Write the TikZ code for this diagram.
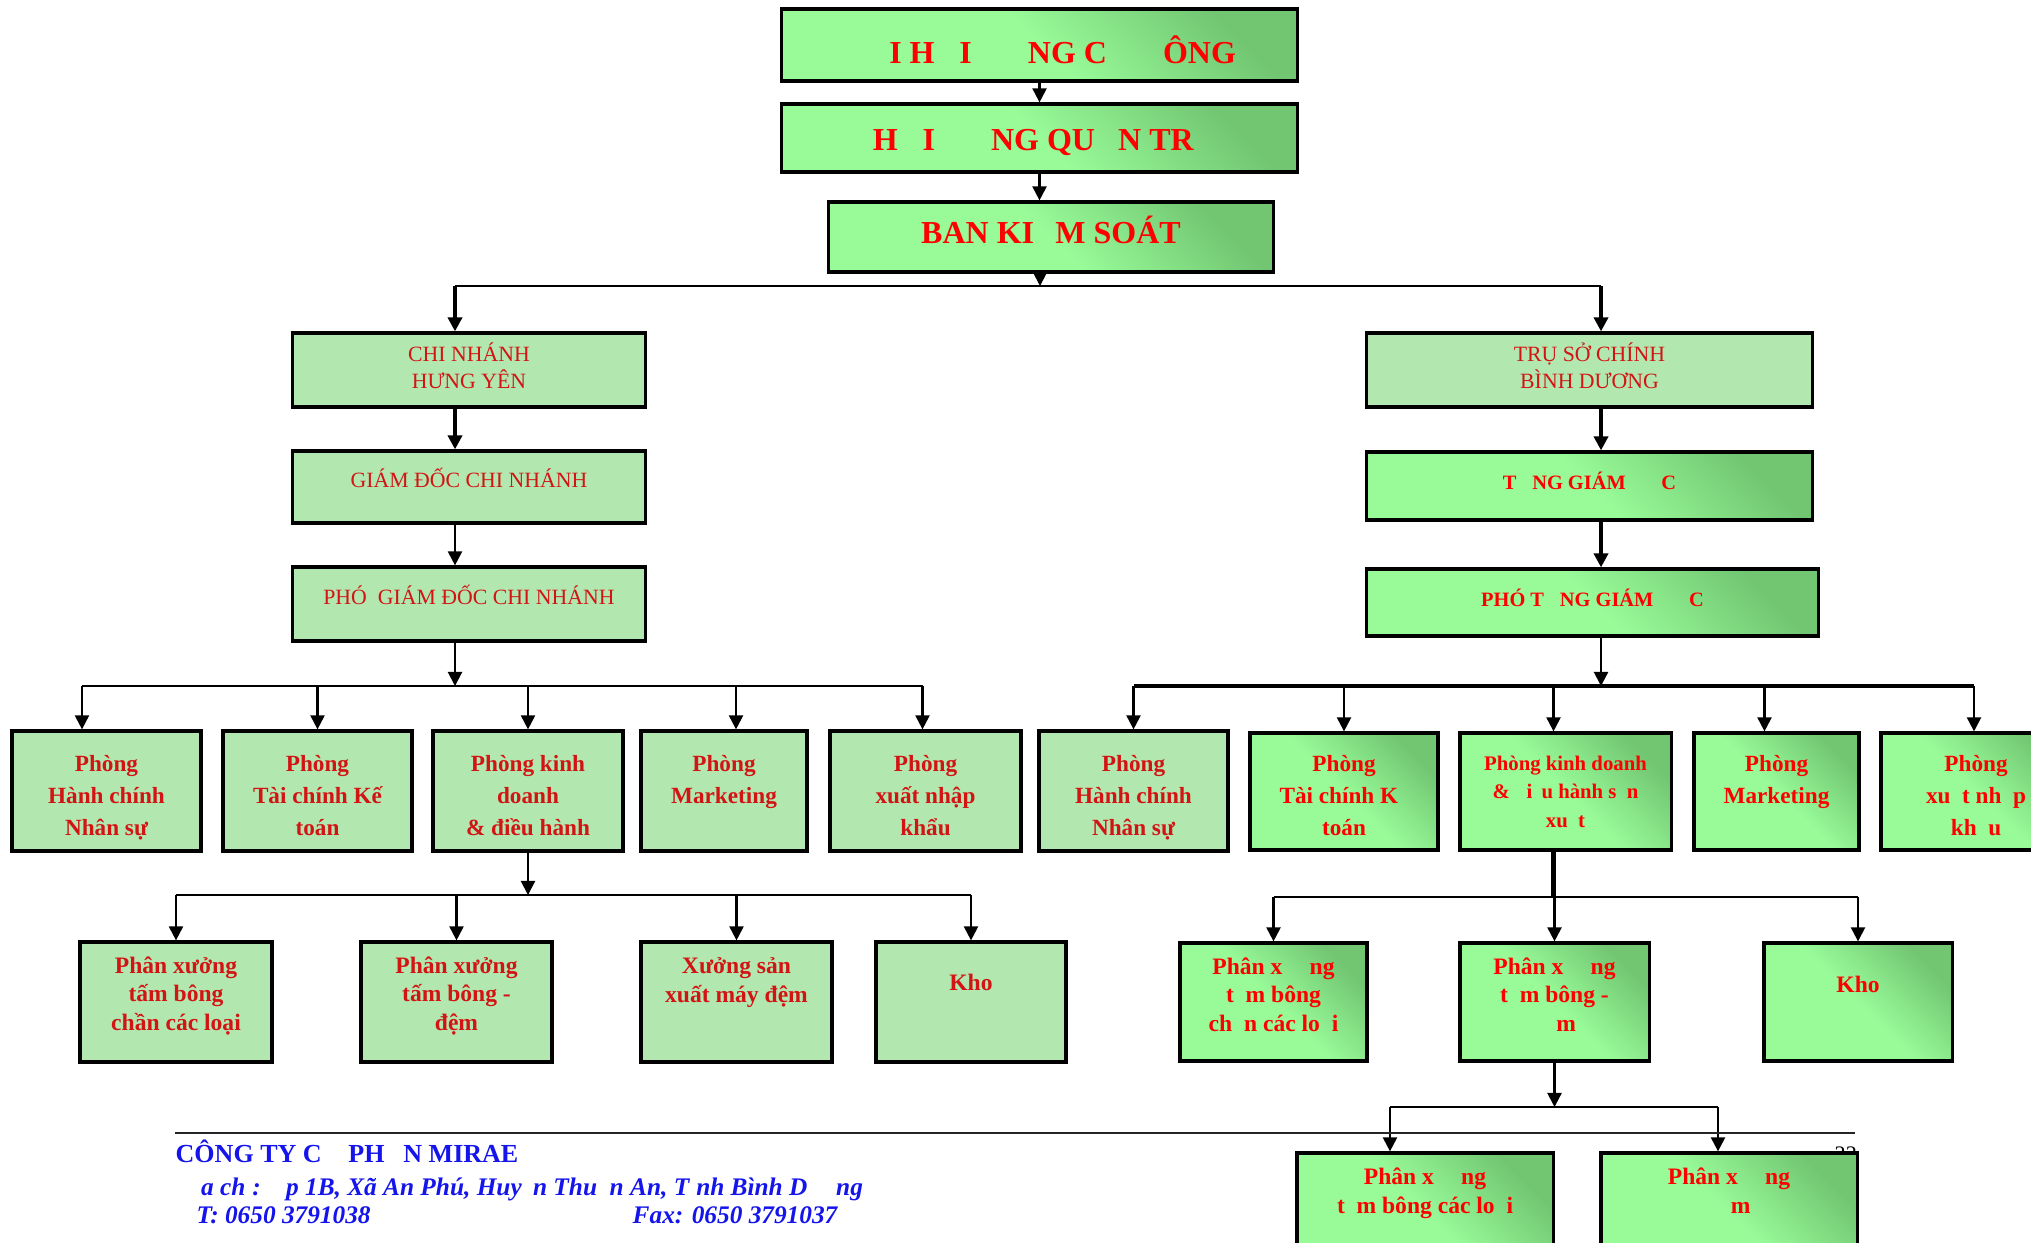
\documentclass[tikz,border=0pt]{standalone}
\usepackage{fontspec}
\setmainfont{Liberation Serif}
\usetikzlibrary{arrows.meta}

\definecolor{lgreen}{RGB}{152,251,152}
\definecolor{dgreen}{RGB}{114,198,114}
\definecolor{tgreen}{RGB}{178,232,176}
\definecolor{tred}{RGB}{255,0,0}
\definecolor{dred}{RGB}{210,20,20}
\definecolor{fblue}{RGB}{20,20,235}

% glyphs the original font did not print: keep their width only
\newcommand{\miss}[1]{\phantom{#1}}

\tikzset{
  box/.style={draw, line width=0.9pt, align=center},
  gbox/.style={box, left color=lgreen, right color=dgreen, middle color=lgreen, shading angle=135, text=tred},
  tbox/.style={box, fill=tgreen, text=dred},
  tb/.style 2 args={inner ysep=0pt, text height=#1, text depth=#2},
  topf/.style={font=\fontsize{9.1}{11}\selectfont\bfseries},
  colf/.style={font=\fontsize{6.2}{7.4}\selectfont},
  hdf/.style={font=\fontsize{5.8}{7}\selectfont\bfseries},
  deptf/.style={font=\fontsize{6.6}{9.1}\selectfont\bfseries},
  smallf/.style={font=\fontsize{5.9}{8}\selectfont\bfseries},
  subf/.style={font=\fontsize{6.7}{8}\selectfont\bfseries},
  footf/.style={text=fblue, inner sep=0pt, anchor=base west, font=\fontsize{7.2}{9}\selectfont\bfseries\itshape},
  conn/.style={-{Triangle[length=4pt,width=4pt]}, line width=0.6pt},
  thickconn/.style={conn, line width=1.4pt},
  busline/.style={line width=0.6pt},
  thickbus/.style={line width=1.3pt},
}

\begin{document}
\begin{tikzpicture}[x=0.01cm, y=-0.01cm]
\useasboundingbox (0,0) rectangle (2031,1243);

% Top level
\node[gbox, topf, minimum width=5.15cm, tb={0.54cm}{0.18cm}] (dhcd) at (1039.5,45) {\miss{ĐẠ}I H\miss{Ộ}I \miss{ĐỒ}NG C\miss{Ổ} \miss{Đ}ÔNG};
\node[gbox, topf, minimum width=5.15cm, tb={0.46cm}{0.22cm}] (hdqt) at (1039.5,138) {H\miss{Ộ}I \miss{ĐỒ}NG QU\miss{Ả}N TR\miss{Ị}};
\node[gbox, topf, minimum width=4.44cm, tb={0.41cm}{0.29cm}] (bks) at (1051,237) {BAN KI\miss{Ể}M SOÁT};

% Branch columns
\node[tbox, colf, minimum width=3.52cm, tb={0.55cm}{0.19cm}] (cn) at (469,370) {CHI NHÁNH\\HƯNG YÊN};
\node[tbox, colf, minimum width=3.52cm, tb={0.36cm}{0.36cm}] (gd) at (469,487) {GIÁM ĐỐC CHI NHÁNH};
\node[tbox, colf, minimum width=3.52cm, tb={0.37cm}{0.37cm}] (pgd) at (469,604) {PHÓ\ \ GIÁM ĐỐC CHI NHÁNH};

\node[tbox, colf, minimum width=4.45cm, tb={0.55cm}{0.19cm}] (ts) at (1589.5,370) {TRỤ SỞ CHÍNH\\BÌNH DƯƠNG};
\node[gbox, hdf, minimum width=4.45cm, tb={0.37cm}{0.31cm}] (tgd) at (1589.5,486) {T\miss{Ổ}NG GIÁM \miss{ĐỐ}C};
\node[gbox, hdf, minimum width=4.51cm, tb={0.37cm}{0.30cm}] (ptgd) at (1592.5,602.5) {PHÓ T\miss{Ổ}NG GIÁM \miss{ĐỐ}C};

% Departments, left
\node[tbox, deptf, minimum width=1.89cm, tb={1.04cm}{0.16cm}] (l1) at (106.5,791) {Phòng\\Hành chính\\Nhân sự};
\node[tbox, deptf, minimum width=1.89cm, tb={1.04cm}{0.16cm}] (l2) at (317.5,791) {Phòng\\Tài chính Kế\\toán};
\node[tbox, deptf, minimum width=1.90cm, tb={1.04cm}{0.16cm}] (l3) at (528,791) {Phòng kinh\\doanh\\\& điều hành};
\node[tbox, deptf, minimum width=1.66cm, tb={0.72cm}{0.48cm}] (l4) at (724,791) {Phòng\\Marketing};
\node[tbox, deptf, minimum width=1.91cm, tb={1.04cm}{0.16cm}] (l5) at (925.5,791) {Phòng\\xuất nhập\\khẩu};

% Departments, right
\node[tbox, deptf, minimum width=1.89cm, tb={1.04cm}{0.16cm}] (r1) at (1133.5,791) {Phòng\\Hành chính\\Nhân sự};
\node[gbox, deptf, minimum width=1.88cm, tb={1.02cm}{0.15cm}] (r2) at (1344,791.5) {Phòng\\Tài chính K\miss{ế}\\toán};
\node[gbox, smallf, minimum width=2.11cm, tb={0.94cm}{0.23cm}] (r3) at (1565.5,791.5) {Phòng kinh doanh\\\& \miss{đ}i\miss{ề}u hành s\miss{ả}n\\xu\miss{ấ}t};
\node[gbox, deptf, minimum width=1.65cm, tb={0.70cm}{0.47cm}] (r4) at (1776.5,791.5) {Phòng\\Marketing};
\node[gbox, deptf, minimum width=1.90cm, tb={1.02cm}{0.15cm}] (r5) at (1976,791.5) {Phòng\\xu\miss{ấ}t nh\miss{ậ}p\\kh\miss{ẩ}u};

% Workshops, left
\node[tbox, subf, minimum width=1.92cm, tb={0.88cm}{0.32cm}] (s1) at (176,1002) {Phân xưởng\\tấm bông\\chần các loại};
\node[tbox, subf, minimum width=1.91cm, tb={0.88cm}{0.32cm}] (s2) at (456.5,1002) {Phân xưởng\\tấm bông -\\đệm};
\node[tbox, subf, minimum width=1.91cm, tb={0.60cm}{0.60cm}] (s3) at (736.5,1002) {Xưởng sản\\xuất máy đệm};
\node[tbox, subf, minimum width=1.90cm, tb={0.48cm}{0.72cm}] (s4) at (971,1002) {Kho};

% Workshops, right
\node[gbox, subf, minimum width=1.87cm, tb={0.88cm}{0.30cm}] (t1) at (1273.5,1002) {Phân x\miss{ưở}ng\\t\miss{ấ}m bông\\ch\miss{ầ}n các lo\miss{ạ}i};
\node[gbox, subf, minimum width=1.89cm, tb={0.88cm}{0.30cm}] (t2) at (1554.5,1002) {Phân x\miss{ưở}ng\\t\miss{ấ}m bông -\\\miss{đệ}m};
\node[gbox, subf, minimum width=1.88cm, tb={0.49cm}{0.69cm}] (t3) at (1858,1002) {Kho};

% page number, mostly hidden
\node[inner sep=0pt, anchor=north west, font=\fontsize{6.3}{7}\selectfont] (pgno) at (1834,1146) {22};

\node[gbox, subf, minimum width=2.56cm, tb={0.60cm}{0.60cm}] (u1) at (1425,1213) {Phân x\miss{ưở}ng\\t\miss{ấ}m bông các lo\miss{ạ}i};
\node[gbox, subf, minimum width=2.56cm, tb={0.60cm}{0.60cm}] (u2) at (1729,1213) {Phân x\miss{ưở}ng\\\miss{đệ}m};

% Top chain
\draw[conn] (dhcd.south) -- (hdqt.north);
\draw[conn] (hdqt.south) -- (hdqt.south |- bks.north);
\coordinate (bus0) at (1040,286);
\coordinate (lcol) at (455,286);
\coordinate (rcol) at (1601,286);
\draw[conn] (bus0 |- bks.south) -- (bus0);
\draw[busline] (lcol) -- (rcol);

% Left column
\draw[thickconn] (lcol) -- (lcol |- cn.north);
\draw[thickconn] (lcol |- cn.south) -- (lcol |- gd.north);
\draw[conn] (lcol |- gd.south) -- (lcol |- pgd.north);
\coordinate (lbus) at (455,686);
\draw[conn] (lcol |- pgd.south) -- (lbus);
\foreach \n/\dx in {l1/-0.245, l2/0, l3/0, l4/0.12, l5/-0.03}{
  \coordinate (\n top) at ([xshift=\dx cm]\n.north);
  \draw[conn] (\n top |- lbus) -- (\n top);
}
\draw[busline] (l1top |- lbus) -- (l5top |- lbus);

% Right column
\draw[thickconn] (rcol) -- (rcol |- ts.north);
\draw[thickconn] (rcol |- ts.south) -- (rcol |- tgd.north);
\draw[thickconn] (rcol |- tgd.south) -- (rcol |- ptgd.north);
\coordinate (rbus) at (1601,686);
\draw[conn] (rcol |- ptgd.south) -- (rbus);
\foreach \n/\dx in {r1/0, r2/0, r3/-0.12, r4/-0.12, r5/-0.02}{
  \coordinate (\n top) at ([xshift=\dx cm]\n.north);
  \draw[conn] (\n top |- rbus) -- (\n top);
}
\draw[thickbus] (r1top |- rbus) -- (r5top |- rbus);

% Workshops, left
\coordinate (lsbus) at (528,895);
\draw[conn] (l3.south) -- (lsbus);
\foreach \n in {s1,s2,s3,s4}
  \draw[conn] (\n.north |- lsbus) -- (\n.north);
\draw[busline] (s1.north |- lsbus) -- (s4.north |- lsbus);

% Workshops, right
\coordinate (tsbus) at (1553.5,897);
\draw[thickbus] (r3top |- r3.south) -- (tsbus);
\foreach \n in {t1,t2,t3}
  \draw[conn] (\n.north |- tsbus) -- (\n.north);
\draw[busline] (t1.north |- tsbus) -- (t3.north |- tsbus);

\coordinate (ubus) at (1554.5,1107);
\draw[conn] (t2.south) -- (ubus);
\foreach \n/\dx in {u1/-0.35, u2/-0.11}{
  \coordinate (\n top) at ([xshift=\dx cm]\n.north);
  \draw[conn] (\n top |- ubus) -- (\n top);
}
\draw[busline] (u1top |- ubus) -- (u2top |- ubus);

% Footer
\draw[line width=0.7pt, black!85] (175,1133) -- (1855,1133);
\node[footf, font=\fontsize{7.4}{9}\selectfont\bfseries] (cty) at (175,1162) {CÔNG TY C\miss{Ổ} PH\miss{Ầ}N MIRAE};
\node[footf] (dchi) at (175,1195) {\miss{Đị}a ch\miss{ỉ}: \miss{Ấ}p 1B, Xã An Phú, Huy\miss{ệ}n Thu\miss{ậ}n An, T\miss{ỉ}nh Bình D\miss{ươ}ng};
\node[footf] (tel) at (196,1223) {T: 0650 3791038};
\node[footf] (fax) at (632,1223) {Fax: 0650 3791037};
\end{tikzpicture}
\end{document}
